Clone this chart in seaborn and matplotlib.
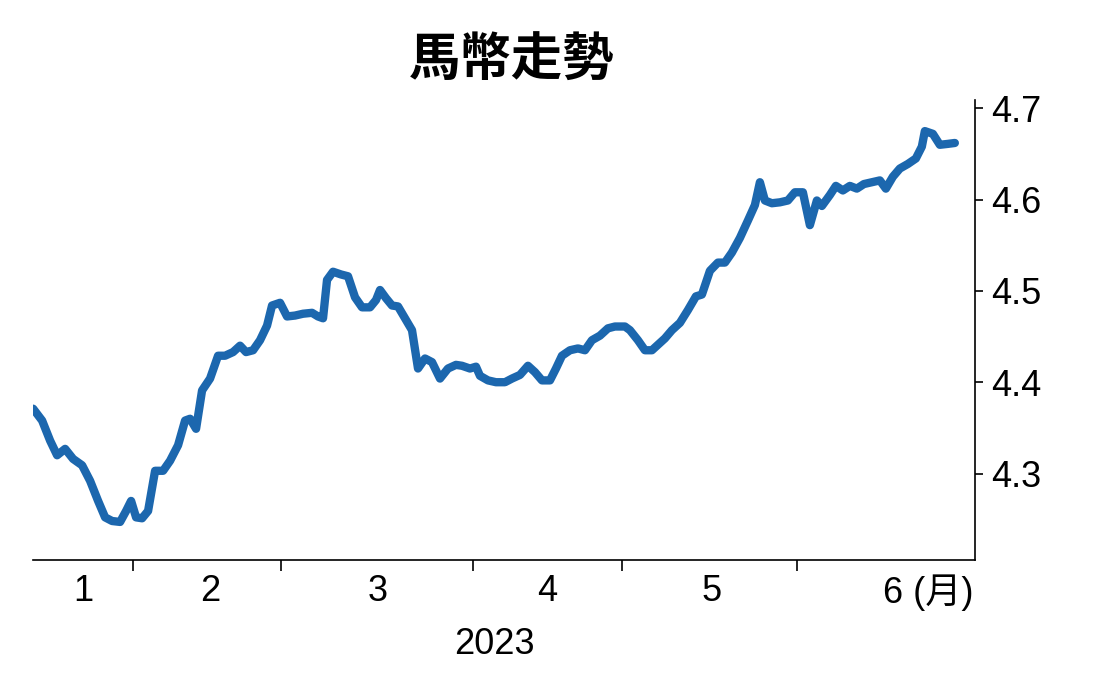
import matplotlib
matplotlib.use("Agg")
import matplotlib.pyplot as plt
import seaborn as sns
import pandas as pd

# horizontal position (trading-day axis units) and ringgit rate
pos = [33, 42, 50, 57, 65, 73, 82, 90, 98, 105, 112, 120, 126, 131, 136, 142, 148, 155, 163, 170,
       178, 185, 190, 196, 202, 210, 218, 225, 233, 240, 246, 253, 260, 267, 272, 280, 287, 295, 303, 312,
       318, 323, 327, 333, 341, 348, 355, 362, 370, 376, 380, 386, 392, 398, 405, 412, 418, 425, 432, 440,
       448, 456, 462, 470, 476, 480, 488, 496, 505, 512, 520, 528, 535, 542, 550, 556, 562, 570, 578, 585,
       592, 600, 608, 615, 625, 630, 638, 645, 652, 658, 665, 672, 680, 688, 696, 702, 710, 718, 725, 732,
       740, 748, 755, 760, 765, 772, 780, 788, 795, 803, 810, 817, 822, 830, 836, 843, 850, 857, 864, 872,
       880, 886, 893, 900, 908, 916, 922, 925, 933, 940, 948, 955]
rate = [4.371, 4.358, 4.336, 4.320, 4.327, 4.316, 4.309, 4.292, 4.270, 4.252, 4.248, 4.247, 4.259, 4.270, 4.252, 4.251, 4.259, 4.303, 4.303, 4.314,
        4.331, 4.358, 4.360, 4.349, 4.391, 4.404, 4.429, 4.429, 4.433, 4.440, 4.433, 4.435, 4.446, 4.462, 4.484, 4.487, 4.472, 4.473, 4.475, 4.476,
        4.472, 4.470, 4.512, 4.521, 4.518, 4.516, 4.493, 4.482, 4.482, 4.490, 4.501, 4.492, 4.484, 4.483, 4.470, 4.457, 4.415, 4.426, 4.422, 4.404,
        4.415, 4.419, 4.418, 4.415, 4.417, 4.407, 4.402, 4.400, 4.400, 4.404, 4.408, 4.418, 4.411, 4.402, 4.402, 4.415, 4.429, 4.435, 4.437, 4.435,
        4.446, 4.451, 4.459, 4.461, 4.461, 4.457, 4.446, 4.435, 4.435, 4.441, 4.448, 4.457, 4.465, 4.479, 4.494, 4.496, 4.522, 4.531, 4.531, 4.542,
        4.558, 4.577, 4.594, 4.619, 4.599, 4.596, 4.597, 4.599, 4.608, 4.608, 4.572, 4.599, 4.593, 4.605, 4.615, 4.610, 4.615, 4.612, 4.617, 4.619,
        4.621, 4.612, 4.625, 4.634, 4.639, 4.645, 4.658, 4.675, 4.672, 4.660, 4.661, 4.662]

month_bounds = [133, 281, 473, 622, 797]
month_centers = [83, 210, 378, 547, 712, 928]
month_labels = ["1", "2", "3", "4", "5", "6 (月)"]
y_ticks = [4.3, 4.4, 4.5, 4.6, 4.7]

sns.set_style("white")
plt.rcParams['font.family'] = ['Liberation Sans', 'Noto Sans CJK TC']
plt.rcParams['text.color'] = 'black'
plt.rcParams['xtick.color'] = 'black'
plt.rcParams['ytick.color'] = 'black'

fig = plt.figure(figsize=(11.04, 6.9), dpi=100)
ax = fig.add_axes([0.03, 0.188, 0.853, 0.667])

df = pd.DataFrame({"pos": pos, "rate": rate})
sns.lineplot(data=df, x="pos", y="rate", ax=ax, color="#1c67ae", linewidth=6)

ax.set_xlim(33, 975)
ax.set_ylim(4.205, 4.709)
for s in ["top", "left"]:
    ax.spines[s].set_visible(False)
for s in ["bottom", "right"]:
    ax.spines[s].set_color("black")
    ax.spines[s].set_linewidth(1.2)

ax.yaxis.tick_right()
ax.set_yticks(y_ticks)
ax.set_yticklabels([f"{v:.1f}" for v in y_ticks])
ax.tick_params(axis="y", direction="out", length=6, width=1.2, labelsize=26, pad=6, right=True)

ax.set_xticks(month_bounds)
ax.set_xticklabels([])
ax.tick_params(axis="x", direction="out", length=8, width=1.2, bottom=True)
ax.set_xticks(month_centers, minor=True)
ax.set_xticklabels(month_labels, minor=True)
ax.tick_params(axis="x", which="minor", length=0, labelsize=26, pad=10)
ax.set_xlabel("2023", fontsize=26, color="black")
ax.xaxis.set_label_coords(0.49, -0.145)
ax.set_ylabel("")

fig.text(0.463, 0.912, "馬幣走勢", ha="center", va="center", fontsize=37, fontweight="black",
         family=['Noto Sans CJK TC'], color="black")

fig.savefig("out.png", dpi=100)
